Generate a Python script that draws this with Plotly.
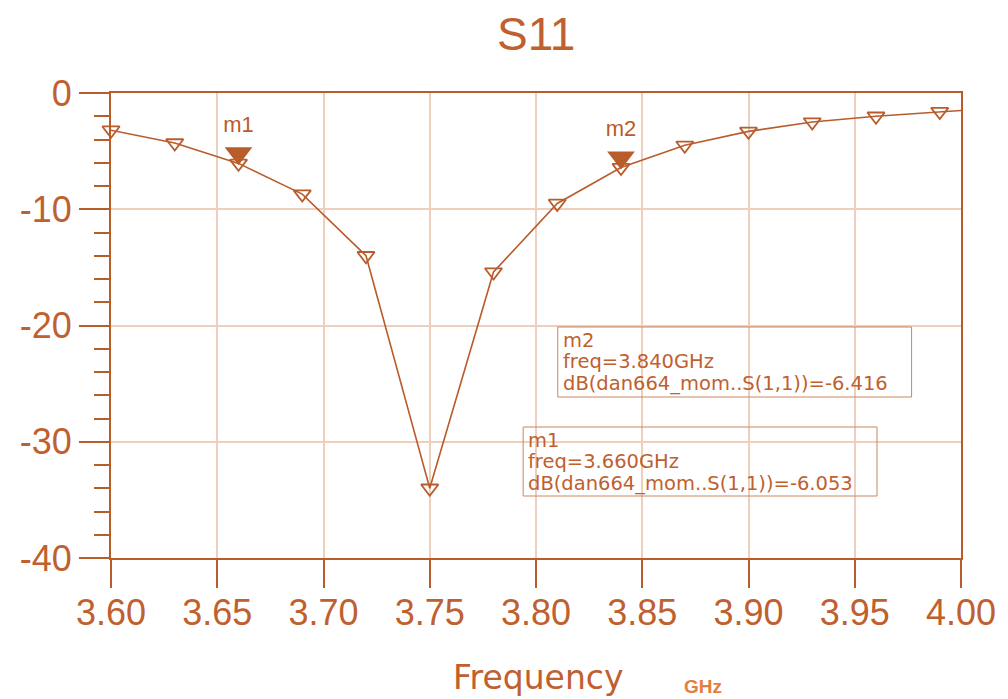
import plotly.graph_objects as go

# ---- data ----
freq_ghz = [3.60, 3.63, 3.66, 3.69, 3.72, 3.75, 3.78, 3.81, 3.84, 3.87, 3.90, 3.93, 3.96, 3.99, 4.00]
s11_db = [-3.2, -4.3, -6.053, -8.7, -14.0, -34.0, -15.4, -9.5, -6.416, -4.5, -3.3, -2.5, -2.0, -1.6, -1.5]
symbol_freq = [3.60, 3.63, 3.66, 3.69, 3.72, 3.75, 3.78, 3.81, 3.84, 3.87, 3.90, 3.93, 3.96, 3.99]
marker_names = ["m1", "m2"]
marker_freq = [3.66, 3.84]
marker_db = [-6.053, -6.416]
x_ticks = [3.60, 3.65, 3.70, 3.75, 3.80, 3.85, 3.90, 3.95, 4.00]
x_ticktext = ["3.60", "3.65", "3.70", "3.75", "3.80", "3.85", "3.90", "3.95", "4.00"]
y_ticks = [0, -10, -20, -30, -40]
y_ticktext = ["0", "-10", "-20", "-30", "-40"]

# ---- style ----
LINE = "#B95C2C"
TEXT = "#BF602F"
GRID = "#EDCFBC"
FONT = "Liberation Sans"
WIDE = "DejaVu Sans"

OFF = 8  # page body margin
W, H = 1000, 691
L, R, T, B = 97, 43, 85, 141
plot_w = W - L - R
plot_h = H - T - B
px_per_db = plot_h / 40.0

def pg2paper(x, y):
    """page pixel -> paper coords"""
    return (x - OFF - L) / plot_w, 1 - (y - OFF - T) / plot_h

sym_db = [s11_db[freq_ghz.index(f)] for f in symbol_freq]

fig = go.Figure()
fig.add_trace(go.Scatter(x=freq_ghz, y=s11_db, mode="lines",
                         line=dict(color=LINE, width=1.6), hoverinfo="skip", showlegend=False,
                         cliponaxis=False))
fig.add_trace(go.Scatter(x=symbol_freq, y=sym_db, mode="markers",
                         marker=dict(symbol="triangle-down-open", size=15, color=LINE,
                                     line=dict(width=1.8, color=LINE)),
                         showlegend=False, cliponaxis=False))
off = 10 / px_per_db
fig.add_trace(go.Scatter(x=marker_freq, y=[v + off for v in marker_db], mode="markers+text",
                         text=marker_names, textposition="top center",
                         textfont=dict(family=FONT, size=22, color=LINE),
                         marker=dict(symbol="triangle-down", size=24, color=LINE),
                         showlegend=False, cliponaxis=False))

boxes = [
    (marker_names[1], marker_freq[1], marker_db[1], (557, 327, 915, 397)),
    (marker_names[0], marker_freq[0], marker_db[0], (522, 427, 880, 496)),
]
for name, f, v, (x0, y0, x1, y1) in boxes:
    px0, py0 = pg2paper(x0, y0)
    px1, py1 = pg2paper(x1, y1)
    fig.add_shape(type="rect", xref="paper", yref="paper", x0=px0, y0=py1, x1=px1, y1=py0,
                  line=dict(color="#C98660", width=1), fillcolor="rgba(0,0,0,0)", layer="above")
    lines = [name, f"freq={f:.3f}GHz", f"dB(dan664_mom..S(1,1))={v:.3f}"]
    for i, txt in enumerate(lines):
        tx, ty = pg2paper(x0 + 3, y0 + 13 + 21.5 * i)
        fig.add_annotation(xref="paper", yref="paper", x=tx, y=ty, xanchor="left", yanchor="middle",
                           showarrow=False, text=txt,
                           font=dict(family=WIDE, size=19.5, color=TEXT))

# x-axis title and unit
fx, fy = pg2paper(537, 677)
fig.add_annotation(xref="paper", yref="paper", x=fx, y=fy, xanchor="center", yanchor="middle",
                   showarrow=False, text="Frequency",
                   font=dict(family=WIDE, size=33, color=TEXT))
gx, gy = pg2paper(704, 686)
fig.add_annotation(xref="paper", yref="paper", x=gx, y=gy, xanchor="center", yanchor="middle",
                   showarrow=False, text="<b>GHz</b>",
                   font=dict(family=FONT, size=19, color="#E47D3E"))
sx, sy = pg2paper(535, 34)
fig.add_annotation(xref="paper", yref="paper", x=sx, y=sy, xanchor="center", yanchor="middle",
                   showarrow=False, text="S11",
                   font=dict(family=FONT, size=46, color=TEXT))

fig.update_layout(
    width=W, height=H,
    margin=dict(l=L, r=R, t=T, b=B),
    paper_bgcolor="white", plot_bgcolor="white",
    xaxis=dict(range=[3.60, 4.00], tickvals=x_ticks, ticktext=x_ticktext,
               showgrid=True, gridcolor=GRID, gridwidth=1.8,
               showline=True, linecolor=LINE, linewidth=2, mirror=True,
               ticks="outside", ticklen=28, tickwidth=1.6, tickcolor=LINE,
               ticklabelstandoff=-6,
               tickfont=dict(family=FONT, size=36, color=TEXT),
               zeroline=False),
    yaxis=dict(range=[-40, 0], tickvals=y_ticks, ticktext=y_ticktext,
               showgrid=True, gridcolor=GRID, gridwidth=1.8,
               showline=True, linecolor=LINE, linewidth=2, mirror=True,
               ticks="outside", ticklen=30, tickwidth=1.6, tickcolor=LINE,
               minor=dict(dtick=2, tick0=0, ticks="outside", ticklen=15, tickwidth=1.6,
                          tickcolor=LINE, showgrid=False),
               tickfont=dict(family=FONT, size=36, color=TEXT),
               zeroline=False),
)

fig.write_html("out.html")
